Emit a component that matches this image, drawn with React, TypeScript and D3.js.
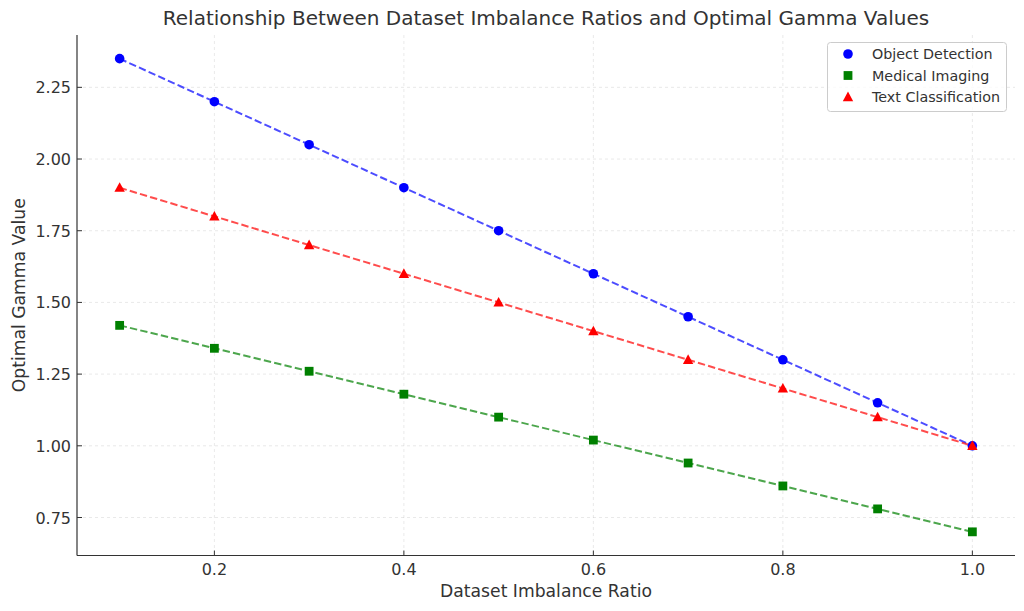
import React from "react";
import * as d3 from "d3";

const ratios = [0.1, 0.2, 0.3, 0.4, 0.5, 0.6, 0.7, 0.8, 0.9, 1.0];
const objectDetection = [2.35, 2.2, 2.05, 1.9, 1.75, 1.6, 1.45, 1.3, 1.15, 1.0];
const medicalImaging = [1.42, 1.34, 1.26, 1.18, 1.1, 1.02, 0.94, 0.86, 0.78, 0.7];
const textClassification = [1.9, 1.8, 1.7, 1.6, 1.5, 1.4, 1.3, 1.2, 1.1, 1.0];
const xTicks = [0.2, 0.4, 0.6, 0.8, 1.0];
const yTicks = [0.75, 1.0, 1.25, 1.5, 1.75, 2.0, 2.25];

const W = 1024, H = 611;
const L = 77, R = 1015, T = 35, B = 555.5;
const font = "'DejaVu Sans', sans-serif";
const txt = "#333333";

export default function App() {
  const x = d3.scaleLinear().domain([0.055, 1.045]).range([L, R]);
  const y = d3.scaleLinear().domain([0.6175, 2.4325]).range([B, T]);
  const line = (vals: number[]) =>
    d3.line<number>().x((_, i) => x(ratios[i])).y((v) => y(v))(vals) || "";

  const series = [
    { name: "Object Detection", vals: objectDetection, color: "blue", shape: "circle" },
    { name: "Medical Imaging", vals: medicalImaging, color: "green", shape: "square" },
    { name: "Text Classification", vals: textClassification, color: "red", shape: "triangle" },
  ];

  const marker = (shape: string, cx: number, cy: number, color: string, key: any) => {
    if (shape === "circle") return <circle key={key} cx={cx} cy={cy} r={4.8} fill={color} />;
    if (shape === "square") return <rect key={key} x={cx - 4.4} y={cy - 4.4} width={8.8} height={8.8} fill={color} />;
    const s = 5.2;
    return <path key={key} d={`M${cx},${cy - s * 1.05} L${cx + s},${cy + s * 0.8} L${cx - s},${cy + s * 0.8} Z`} fill={color} />;
  };

  return (
    <svg width={W} height={H} style={{ position: "absolute", left: 0, top: 0, background: "#fff" }}>
      <rect x={0} y={0} width={W} height={H} fill="#fff" />
      {xTicks.map((t) => (
        <line key={"gx" + t} x1={x(t)} x2={x(t)} y1={T} y2={B} stroke="#b0b0b0" strokeOpacity={0.35} strokeWidth={0.8} strokeDasharray="3,3" />
      ))}
      {yTicks.map((t) => (
        <line key={"gy" + t} x1={L} x2={R} y1={y(t)} y2={y(t)} stroke="#b0b0b0" strokeOpacity={0.35} strokeWidth={0.8} strokeDasharray="3,3" />
      ))}
      {series.map((s) => (
        <path key={"l" + s.name} d={line(s.vals)} fill="none" stroke={s.color} strokeOpacity={0.7} strokeWidth={2} strokeDasharray="7.4,3.2" />
      ))}
      {series.map((s) => s.vals.map((v, i) => marker(s.shape, x(ratios[i]), y(v), s.color, s.name + i)))}
      <line x1={L} x2={L} y1={T} y2={B} stroke={txt} strokeWidth={1.2} />
      <line x1={L} x2={R} y1={B} y2={B} stroke={txt} strokeWidth={1.2} />
      {xTicks.map((t) => (
        <g key={"xt" + t}>
          <line x1={x(t)} x2={x(t)} y1={B} y2={B - 5} stroke={txt} strokeWidth={1} />
          <text x={x(t)} y={B + 19} textAnchor="middle" fontFamily={font} fontSize={16} fill={txt}>{t.toFixed(1)}</text>
        </g>
      ))}
      {yTicks.map((t) => (
        <g key={"yt" + t}>
          <line x1={L} x2={L + 5} y1={y(t)} y2={y(t)} stroke={txt} strokeWidth={1} />
          <text x={L - 6} y={y(t) + 6} textAnchor="end" fontFamily={font} fontSize={16} fill={txt}>{t.toFixed(2)}</text>
        </g>
      ))}
      <text x={(L + R) / 2} y={25} textAnchor="middle" fontFamily={font} fontSize={20} fill={txt}>
        Relationship Between Dataset Imbalance Ratios and Optimal Gamma Values
      </text>
      <text x={(L + R) / 2} y={596.5} textAnchor="middle" fontFamily={font} fontSize={17.2} fill={txt}>Dataset Imbalance Ratio</text>
      <text transform={`translate(24.5,${(T + B) / 2}) rotate(-90)`} textAnchor="middle" fontFamily={font} fontSize={17.2} fill={txt}>Optimal Gamma Value</text>
      <rect x={827.5} y={42.5} width={179} height={69} rx={3} fill="#fff" fillOpacity={0.8} stroke="#cccccc" strokeWidth={1} />
      {series.map((s, i) => (
        <g key={"lg" + s.name}>
          {marker(s.shape, 848, 54 + i * 21.5, s.color, "lm" + i)}
          <text x={872} y={59 + i * 21.5} fontFamily={font} fontSize={14.3} fill={txt}>{s.name}</text>
        </g>
      ))}
    </svg>
  );
}
